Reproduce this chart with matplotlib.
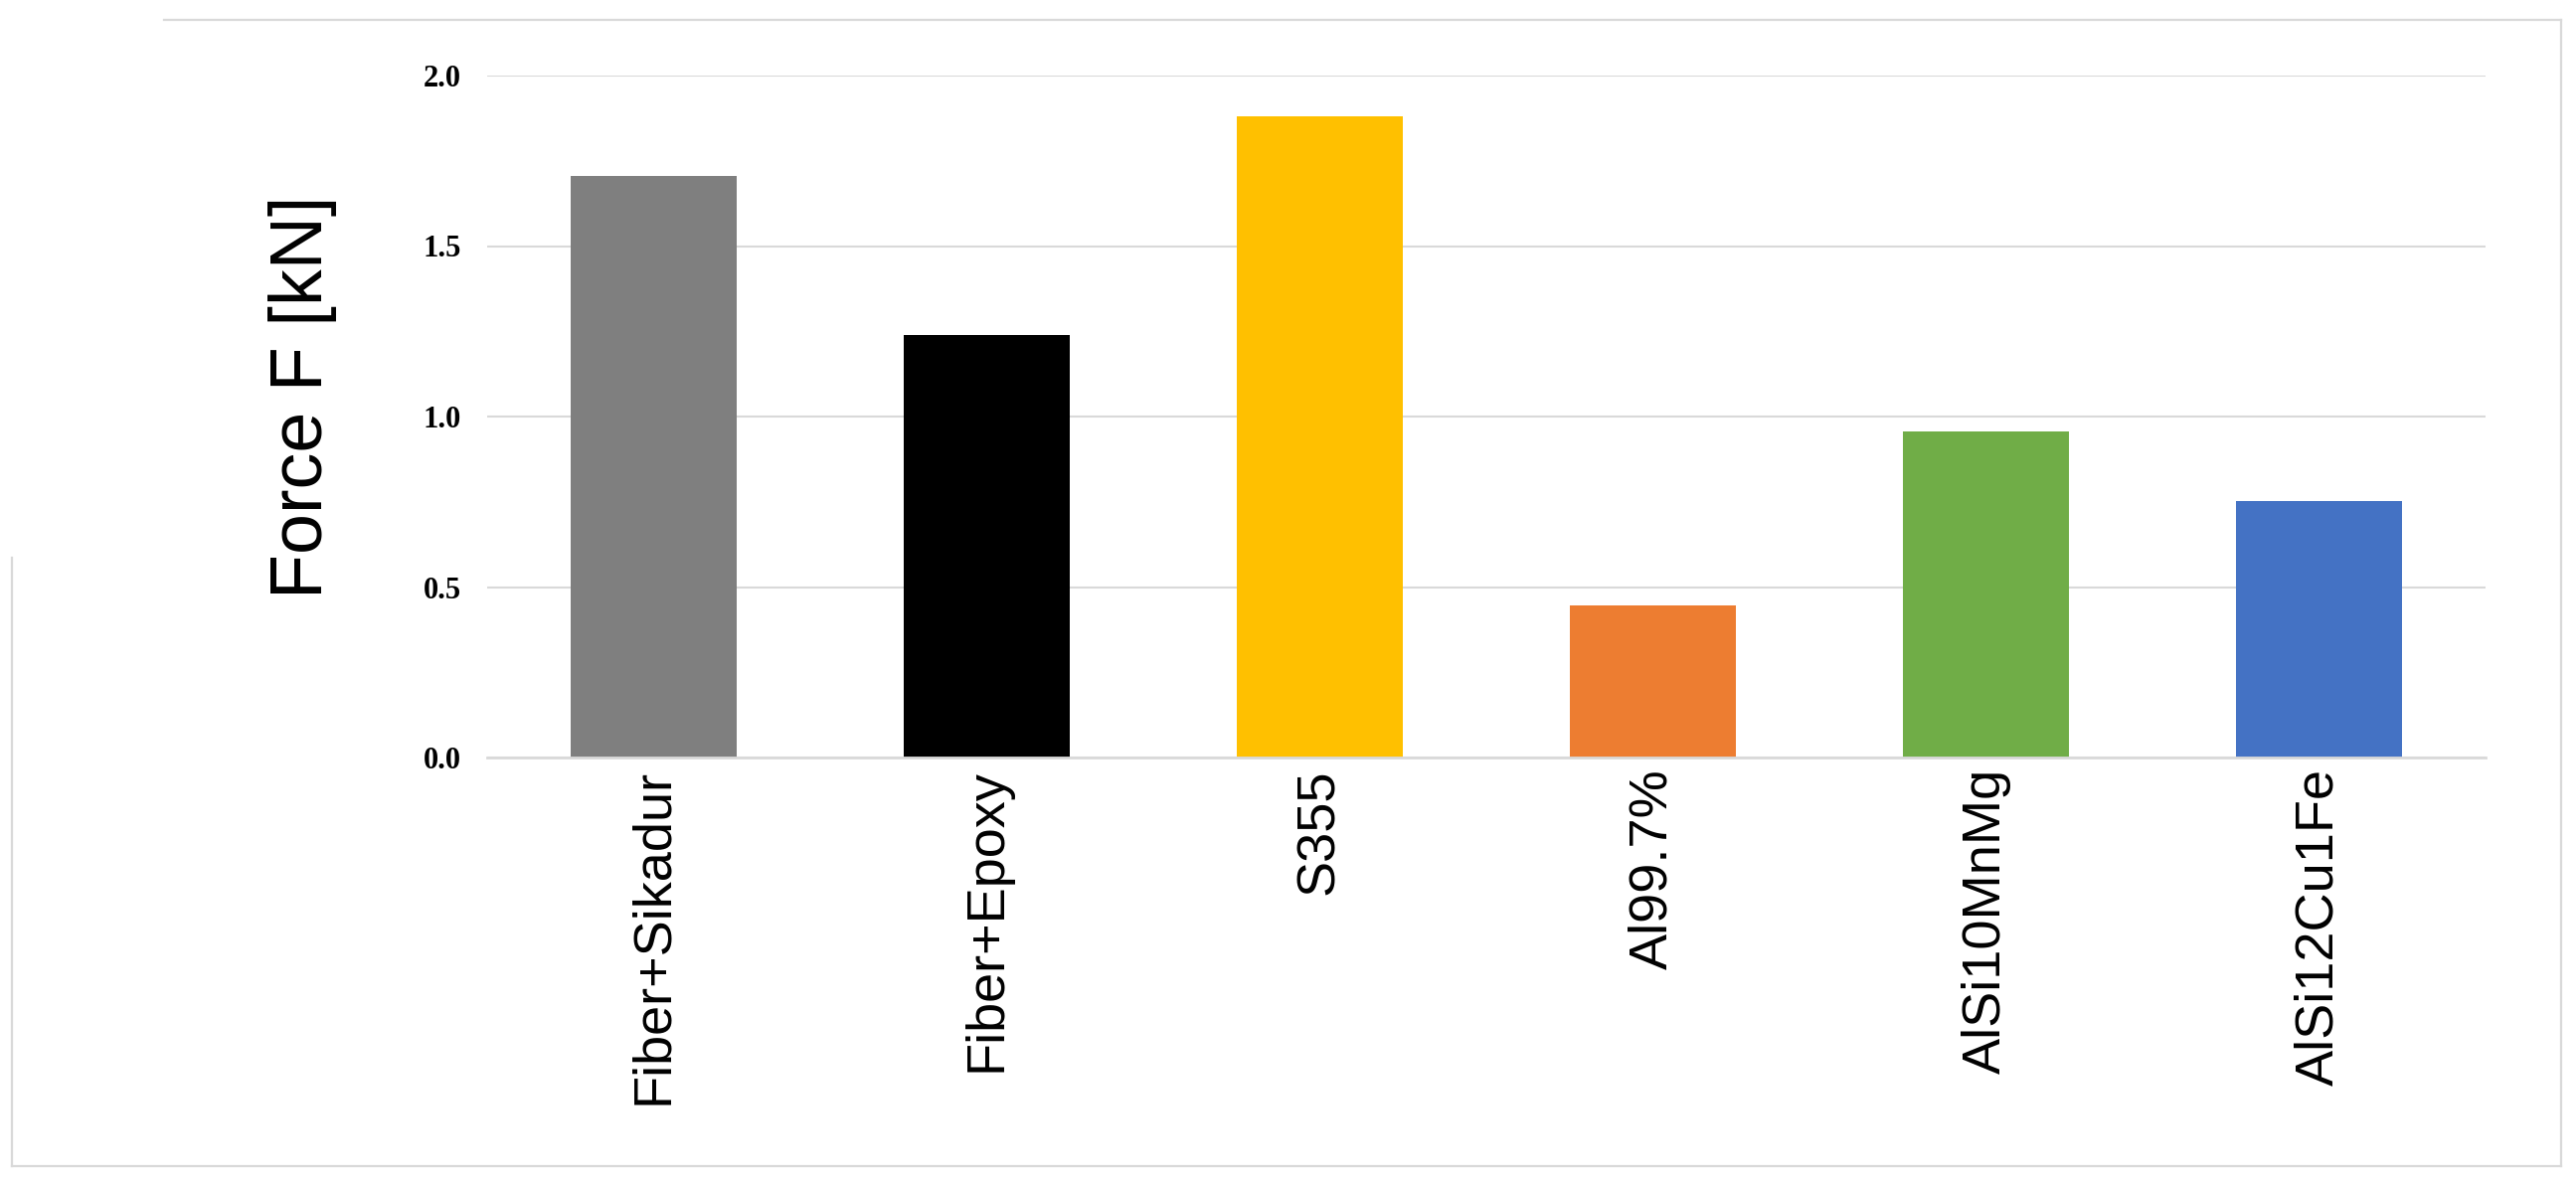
import matplotlib
matplotlib.use("Agg")
import matplotlib.pyplot as plt
from matplotlib.lines import Line2D

categories = ["Fiber+Sikadur", "Fiber+Epoxy", "S355", "Al99.7%", "AlSi10MnMg", "AlSi12Cu1Fe"]
force_kN = [1.705, 1.24, 1.88, 0.445, 0.955, 0.752]
bar_colors = ["#7f7f7f", "#000000", "#ffc000", "#ed7d31", "#70ad47", "#4472c4"]
y_ticks = [0.0, 0.5, 1.0, 1.5, 2.0]
y_label = "Force F [kN]"

W, H = 2591, 1190
fig = plt.figure(figsize=(W / 100, H / 100), dpi=100)
ax = fig.add_axes([490 / W, 1 - 762 / H, (2500 - 490) / W, (762 - 76) / H])

x = range(len(categories))
ax.bar(x, force_kN, width=0.5, color=bar_colors, zorder=3)
ax.set_xlim(-0.5, len(categories) - 0.5)
ax.set_ylim(0, 2.0)
ax.set_yticks(y_ticks)
ax.set_yticklabels([f"{v:.1f}" for v in y_ticks], fontfamily="Liberation Serif",
                   fontweight="bold", fontsize=22)
ax.set_xticks(list(x))
ax.set_xticklabels(categories, rotation=90, fontfamily="Liberation Sans", fontsize=39)
ax.tick_params(axis="y", length=0, pad=19)
ax.tick_params(axis="x", length=0, pad=8)
ax.yaxis.grid(True, color="#d9d9d9", linewidth=1.5, zorder=0)
for s in ["top", "right", "left"]:
    ax.spines[s].set_visible(False)
ax.spines["bottom"].set_color("#d9d9d9")
ax.spines["bottom"].set_linewidth(2)
ax.spines["bottom"].set_zorder(4)

ax.set_ylabel(y_label, fontfamily="Liberation Sans", fontsize=53)
ax.yaxis.set_label_coords(-0.075, 0.528)

# outer frame lines (partial border as in reference)
def fl(x0, y0, x1, y1):
    fig.add_artist(Line2D([x0 / W, x1 / W], [1 - y0 / H, 1 - y1 / H],
                          transform=fig.transFigure, color="#d9d9d9", linewidth=1.6))

fl(165, 20, 2576, 20)
fl(2576, 20, 2576, 1173)
fl(12, 1173, 2576, 1173)
fl(12, 561, 12, 1173)

fig.savefig("out.png", dpi=100, facecolor="white")
